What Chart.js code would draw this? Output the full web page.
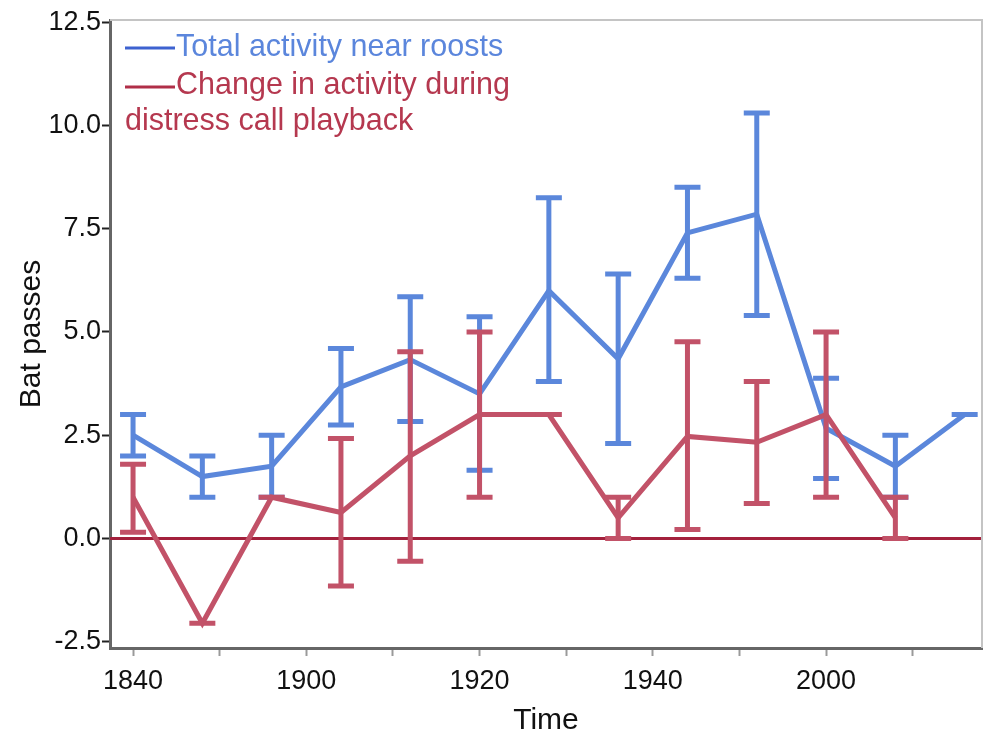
<!DOCTYPE html>
<html>
<head>
<meta charset="utf-8">
<script src="https://cdn.jsdelivr.net/npm/chart.js@4.4.0/dist/chart.umd.min.js"></script>
<style>
  html, body { margin: 0; padding: 0; background: #fff; }
</style>
</head>
<body>
<canvas id="myChart" width="987" height="734"></canvas>
<script>
// Sampling times (hhmm) along the x-axis
var times = ['1840', '1848', '1856', '1904', '1912', '1920', '1928', '1936', '1944', '1952', '2000', '2008', '2016'];

// Total activity near roosts (mean and error bar ends)
var totalMean = [2.5, 1.5, 1.75, 3.67, 4.33, 3.5, 6.0, 4.35, 7.4, 7.85, 2.67, 1.75, 3.0];
var totalLow  = [2.0, 1.0, 1.0, 2.75, 2.83, 1.65, 3.8, 2.3, 6.3, 5.4, 1.45, 1.0, 3.0];
var totalHigh = [3.0, 2.0, 2.5, 4.6, 5.85, 5.37, 8.25, 6.4, 8.5, 10.3, 3.88, 2.5, 3.0];

// Change in activity during distress call playback (no value at 2016)
var changeMean = [1.0, -2.05, 1.0, 0.63, 2.0, 3.0, 3.0, 0.5, 2.47, 2.33, 3.0, 0.5];
var changeLow  = [0.15, -2.05, 1.0, -1.15, -0.55, 1.0, 3.0, 0.0, 0.22, 0.85, 1.0, 0.0];
var changeHigh = [1.8, -2.05, 1.0, 2.42, 4.52, 5.0, 3.0, 1.0, 4.76, 3.8, 5.0, 1.0];

// Axis ticks
var xTickTimes  = ['1840', '1850', '1900', '1910', '1920', '1930', '1940', '1950', '2000', '2010'];
var xTickLabels = ['1840', '', '1900', '', '1920', '', '1940', '', '2000', ''];
var yTicks = [-2.5, 0, 2.5, 5, 7.5, 10, 12.5];

var legendLabels = ['Total activity near roosts', 'Change in activity during', 'distress call playback'];

var FONT = '"Liberation Sans", Arial, Helvetica, sans-serif';
var BLUE = '#5b87db';
var RED = '#c25268';

// minutes after 18:40
function toMinutes(hhmm) {
  var h = parseInt(hhmm.slice(0, 2), 10);
  var m = parseInt(hhmm.slice(2, 4), 10);
  return h * 60 + m - (18 * 60 + 40);
}

function makePoints(vals) {
  return vals.map(function (v, i) { return { x: toMinutes(times[i]), y: v }; });
}

var xTickValues = xTickTimes.map(toMinutes);

// error bars drawn right after each dataset so the stacking matches the lines
var errorBars = {
  id: 'errorBars',
  afterDatasetDraw: function (chart, args) {
    var ds = chart.data.datasets[args.index];
    if (!ds.low) return;
    var c = chart.ctx, xs = chart.scales.x, ys = chart.scales.y, a = chart.chartArea;
    c.save();
    c.beginPath();
    c.rect(a.left, a.top, a.right - a.left, a.bottom - a.top);
    c.clip();
    c.strokeStyle = ds.borderColor;
    c.lineWidth = 5;
    c.lineCap = 'butt';
    for (var i = 0; i < ds.low.length; i++) {
      var px = xs.getPixelForValue(toMinutes(times[i]));
      var lo = ys.getPixelForValue(ds.low[i]);
      var hi = ys.getPixelForValue(ds.high[i]);
      c.beginPath();
      c.moveTo(px, lo); c.lineTo(px, hi);
      c.moveTo(px - 13, lo); c.lineTo(px + 13, lo);
      c.moveTo(px - 13, hi); c.lineTo(px + 13, hi);
      c.stroke();
    }
    c.restore();
  }
};

var zeroLine = {
  id: 'zeroLine',
  beforeDatasetsDraw: function (chart) {
    var c = chart.ctx, a = chart.chartArea;
    var y0 = chart.scales.y.getPixelForValue(0);
    c.save();
    c.strokeStyle = '#a3203c';
    c.lineWidth = 3;
    c.beginPath();
    c.moveTo(a.left, y0); c.lineTo(a.right, y0);
    c.stroke();
    // light frame on top and right
    c.strokeStyle = '#c4c4c4';
    c.lineWidth = 2;
    c.beginPath();
    c.moveTo(a.left, a.top); c.lineTo(a.right, a.top); c.lineTo(a.right, a.bottom);
    c.stroke();
    c.restore();
  }
};

var legendText = {
  id: 'legendText',
  afterDraw: function (chart) {
    var c = chart.ctx, a = chart.chartArea;
    var l = a.left, t = a.top;
    c.save();
    c.font = '30.5px ' + FONT;
    c.textBaseline = 'alphabetic';
    c.textAlign = 'left';
    c.lineWidth = 3;
    c.strokeStyle = '#3d62d0';
    c.beginPath(); c.moveTo(l + 15, t + 28); c.lineTo(l + 65, t + 28); c.stroke();
    c.fillStyle = '#5b86dc';
    c.fillText(legendLabels[0], l + 66, t + 36);
    c.strokeStyle = '#b02e48';
    c.beginPath(); c.moveTo(l + 15, t + 67); c.lineTo(l + 65, t + 67); c.stroke();
    c.fillStyle = '#b5384f';
    c.fillText(legendLabels[1], l + 66, t + 74);
    c.fillText(legendLabels[2], l + 15, t + 110);
    c.restore();
  }
};

var ctx = document.getElementById('myChart');
var myChart = new Chart(ctx, {
  type: 'line',
  data: {
    datasets: [
      {
        label: 'Change in activity during distress call playback',
        data: makePoints(changeMean),
        low: changeLow,
        high: changeHigh,
        borderColor: RED,
        borderWidth: 5,
        pointRadius: 0,
        tension: 0,
        fill: false,
        order: 0
      },
      {
        label: 'Total activity near roosts',
        data: makePoints(totalMean),
        low: totalLow,
        high: totalHigh,
        borderColor: BLUE,
        borderWidth: 5,
        pointRadius: 0,
        tension: 0,
        fill: false,
        order: 1
      }
    ]
  },
  options: {
    responsive: false,
    animation: false,
    layout: { padding: { top: 20, right: 5, left: 0, bottom: 0 } },
    plugins: { legend: { display: false }, tooltip: { enabled: false } },
    scales: {
      x: {
        type: 'linear',
        min: -2.66,
        max: 98,
        afterBuildTicks: function (axis) {
          axis.ticks = xTickValues.map(function (v) { return { value: v }; });
        },
        afterFit: function (s) { s.height = 86; },
        ticks: {
          autoSkip: false,
          maxRotation: 0,
          padding: 9,
          color: '#111',
          font: { family: FONT, size: 27 },
          callback: function (value) {
            var i = xTickValues.indexOf(value);
            return i >= 0 ? xTickLabels[i] : '';
          }
        },
        grid: { drawOnChartArea: false, drawTicks: true, tickLength: 8, tickColor: '#9a9a9a', tickWidth: 2 },
        border: { display: true, color: '#666', width: 3 },
        title: { display: true, text: 'Time', color: '#111', font: { family: FONT, size: 30, lineHeight: 0.9 }, padding: { top: 0, bottom: 0 } }
      },
      y: {
        min: -2.65,
        max: 12.55,
        afterBuildTicks: function (axis) {
          axis.ticks = yTicks.map(function (v) { return { value: v }; });
        },
        afterFit: function (s) { s.width = 110; },
        ticks: {
          padding: 1,
          color: '#111',
          font: { family: FONT, size: 27 },
          callback: function (value) { return value.toFixed(1); }
        },
        grid: { drawOnChartArea: false, drawTicks: true, tickLength: 8, tickColor: '#222', tickWidth: 2 },
        border: { display: true, color: '#666', width: 3 },
        title: { display: true, text: 'Bat passes', color: '#111', font: { family: FONT, size: 30, lineHeight: 1 }, padding: { top: 17, bottom: 0 } }
      }
    }
  },
  plugins: [zeroLine, errorBars, legendText]
});
</script>
</body>
</html>
